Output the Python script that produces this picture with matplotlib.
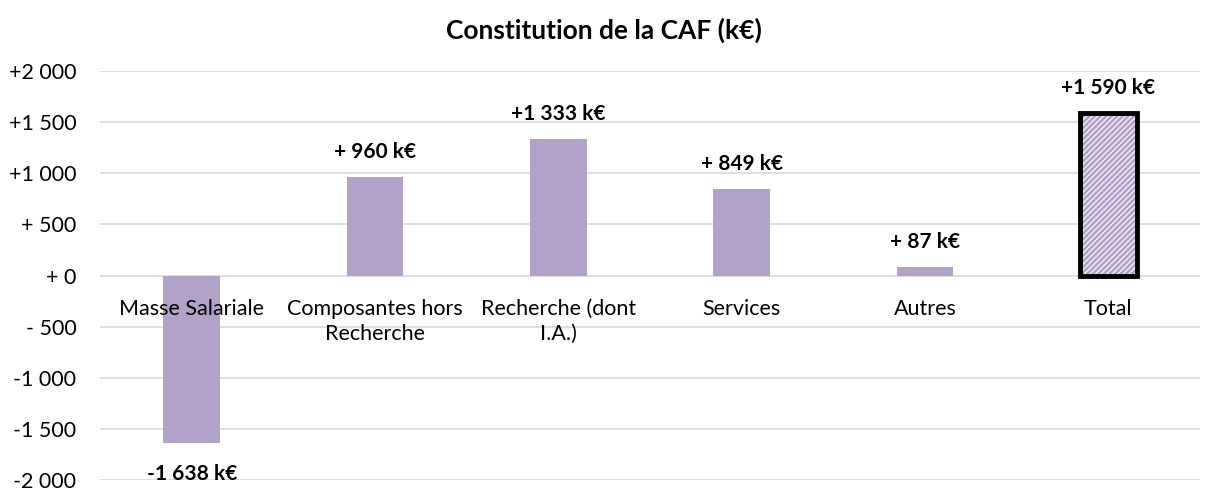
import numpy as np
import matplotlib
matplotlib.use('Agg')
import matplotlib.pyplot as plt

# Data
categories = ['Masse Salariale', 'Composantes hors\nRecherche', 'Recherche (dont\nI.A.)',
              'Services', 'Autres', 'Total']
values = [-1638, 960, 1333, 849, 87, 1590]
value_labels = ['-1 638 k€', '+ 960 k€', '+1 333 k€', '+ 849 k€', '+ 87 k€', '+1 590 k€']
yticks = [-2000, -1500, -1000, -500, 0, 500, 1000, 1500, 2000]
ytick_labels = ['-2 000', '-1 500', '-1 000', '- 500', '+ 0', '+ 500', '+1 000', '+1 500', '+2 000']

purple = '#B3A2C7'
plt.rcParams['font.family'] = ['Lato', 'DejaVu Sans']
plt.rcParams['hatch.linewidth'] = 2.0

fig = plt.figure(figsize=(12.08, 4.9), dpi=100)
ax = fig.add_axes([100/1208, 10/490, 1100/1208, 409/490])

x = np.arange(len(categories))
w = 0.31
ax.bar(x[:-1], values[:-1], width=w, color=purple, zorder=2)
# Total bar: hatched fill plus thick black frame
ax.bar(x[-1], values[-1], width=w, facecolor='white', edgecolor=purple, hatch='//////',
       linewidth=0, zorder=2)
ax.bar(x[-1], values[-1], width=w, fill=False, edgecolor='black', linewidth=3.5, zorder=3)

for xi, v, lab in zip(x, values, value_labels):
    off = 18 if v >= 0 else -22
    ax.annotate(lab, (xi, v), xytext=(0, off), textcoords='offset points',
                ha='center', va='center', fontsize=15, fontweight='bold', zorder=4)

for xi, c in zip(x, categories):
    ax.annotate(c, (xi, 0), xytext=(0, -17), textcoords='offset points',
                ha='center', va='top', fontsize=15.5, linespacing=1.3, zorder=4)

ax.set_xlim(-0.5, len(categories) - 0.5)
ax.set_ylim(-2000, 2000)
ax.set_yticks(yticks)
ax.set_yticklabels(ytick_labels, fontsize=15.5)
ax.set_xticks([])
ax.tick_params(axis='y', length=0, pad=17)
ax.grid(axis='y', color='#D9D9D9', linewidth=1.2, zorder=0)
for s in ax.spines.values():
    s.set_visible(False)

fig.text(0.5, 1 - 30/490, 'Constitution de la CAF (k€)', ha='center', va='center',
         fontsize=19, fontweight='bold')

fig.savefig('out.png', dpi=100)
